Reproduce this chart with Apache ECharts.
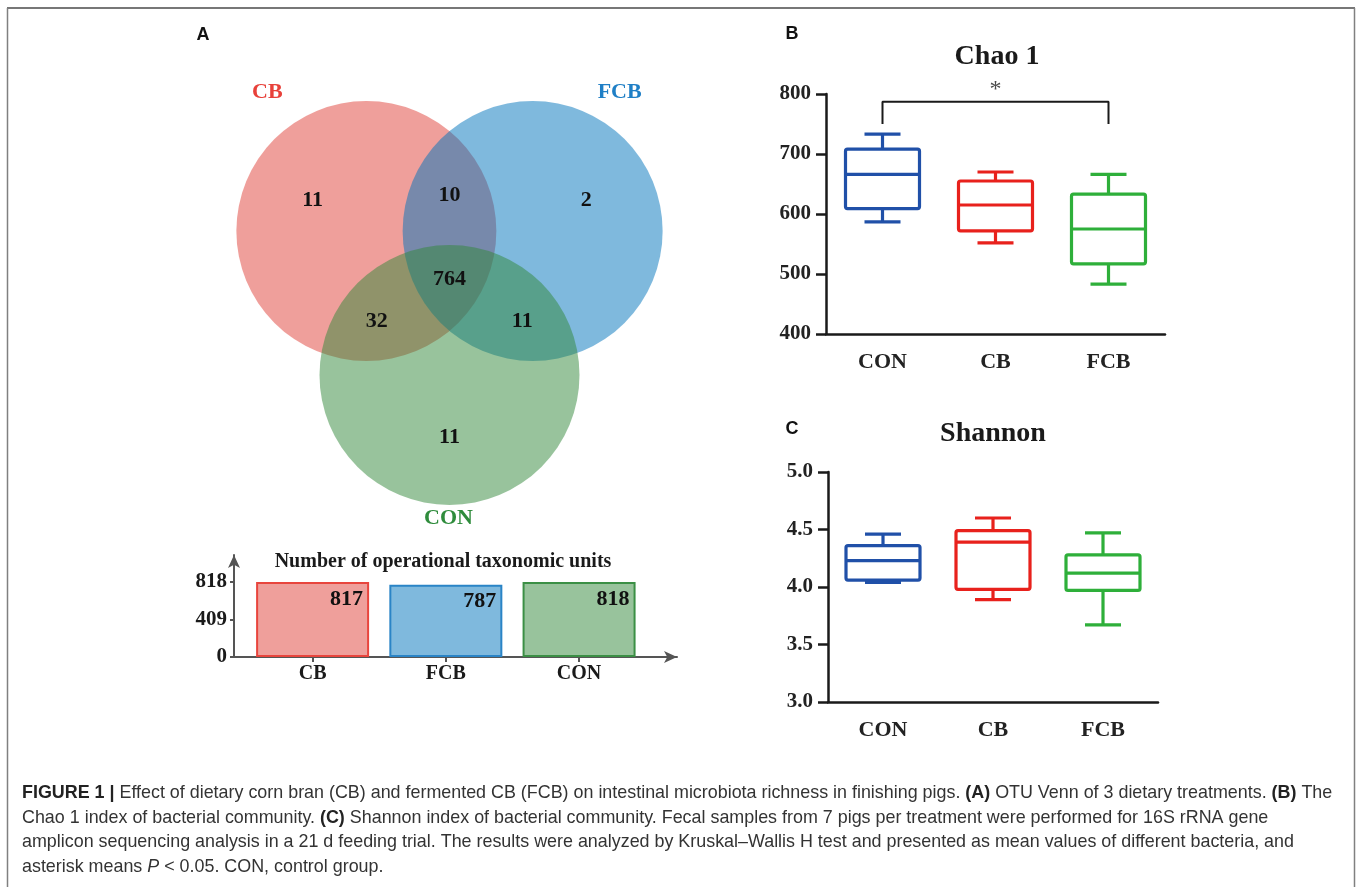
<!DOCTYPE html>
<html lang="en">
<head>
    <meta charset="UTF-8">
    <title>Figure 1 - OTU Venn, Chao 1, Shannon</title>
    <script src="https://cdn.jsdelivr.net/npm/echarts@6.0.0/dist/echarts.min.js"></script>
    <style>
        html, body {margin: 0; padding: 0; background: #fff;}
        #fig {width: 1358px; height: 887px;}
    </style>
</head>
<body>
<div id="fig"></div>
<script>
    // data
    var vennSets = ['CB', 'FCB', 'CON'];
    var vennRegions = [['CB'], ['FCB'], ['CON'], ['CB', 'FCB'], ['CB', 'CON'], ['FCB', 'CON'], ['CB', 'FCB', 'CON']];
    var vennCounts = [11, 2, 11, 10, 32, 11, 764];

    var otuGroups = ['CB', 'FCB', 'CON'];
    var otuTotals = [817, 787, 818];
    var otuTicks = [0, 409, 818];

    var boxGroups = ['CON', 'CB', 'FCB'];
    // [min, Q1, median, Q3, max]
    var chao1Stats = [
        [587, 609, 666, 708, 733],
        [552, 572, 615, 655, 670],
        [483, 517, 575, 633, 666]
    ];
    var shannonStats = [
        [4.04, 4.06, 4.23, 4.36, 4.46],
        [3.89, 3.98, 4.39, 4.49, 4.60],
        [3.67, 3.97, 4.12, 4.28, 4.47]
    ];
    var chao1Sig = [0, 2]; // CON vs FCB, P < 0.05

    // colours
    var setBase = {CB: 'rgb(223,63,55)', FCB: 'rgb(0,115,187)', CON: 'rgb(49,135,57)'};
    var setText = {CB: '#e8413a', FCB: '#1f7fc6', CON: '#2f8c3c'};
    var barFill = {CB: '#ef9f9b', FCB: '#7fb9dd', CON: '#98c39c'};
    var barEdge = {CB: '#e8453d', FCB: '#2a84c6', CON: '#3b8f45'};
    var boxColor = {CON: '#2050a8', CB: '#e8211c', FCB: '#2eaf3a'};

    var serif = '"Liberation Serif", "Times New Roman", serif';
    var sans = '"Liberation Sans", Arial, sans-serif';

    // venn layout (pixel-like units on a hidden grid)
    var venn = {cx: 449.5, cy: 279, spread: 96, r: 130, single: 158, pair: 84};
    var setAngle = {CB: 210, FCB: 330, CON: 90};
    var setLabelOffset = {CB: [-99, -139], FCB: [87, -139], CON: [-1, 143]};

    function dirOf(name) {
        var a = setAngle[name] * Math.PI / 180;
        return [Math.cos(a), Math.sin(a)];
    }

    function centerOf(name) {
        var d = dirOf(name);
        return [venn.cx + venn.spread * d[0], venn.cy + venn.spread * d[1]];
    }

    function regionPos(members) {
        if (members.length === 1) {
            var d = dirOf(members[0]);
            return [venn.cx + venn.single * d[0], venn.cy + venn.single * d[1]];
        }
        if (members.length === 2) {
            var missing = vennSets.filter(function (s) { return members.indexOf(s) < 0; })[0];
            var m = dirOf(missing);
            return [venn.cx - venn.pair * m[0], venn.cy - venn.pair * m[1]];
        }
        return [venn.cx, venn.cy];
    }

    function boxRenderer(colors) {
        return function (params, api) {
            var idx = api.value(0);
            var x = api.coord([idx, api.value(1)])[0];
            var yMin = api.coord([idx, api.value(1)])[1];
            var yQ1 = api.coord([idx, api.value(2)])[1];
            var yMed = api.coord([idx, api.value(3)])[1];
            var yQ3 = api.coord([idx, api.value(4)])[1];
            var yMax = api.coord([idx, api.value(5)])[1];
            var hw = 37, cw = 18;
            var st = {stroke: colors[boxGroups[idx]], lineWidth: 3.2, fill: null, lineJoin: 'round'};
            return {
                type: 'group',
                children: [
                    {type: 'rect', shape: {x: x - hw, y: yQ3, width: hw * 2, height: yQ1 - yQ3, r: 2}, style: st},
                    {type: 'line', shape: {x1: x - hw, y1: yMed, x2: x + hw, y2: yMed}, style: st},
                    {type: 'line', shape: {x1: x, y1: yQ3, x2: x, y2: yMax}, style: st},
                    {type: 'line', shape: {x1: x, y1: yQ1, x2: x, y2: yMin}, style: st},
                    {type: 'line', shape: {x1: x - cw, y1: yMax, x2: x + cw, y2: yMax}, style: st},
                    {type: 'line', shape: {x1: x - cw, y1: yMin, x2: x + cw, y2: yMin}, style: st}
                ]
            };
        };
    }

    function boxXAxis(gridIndex) {
        return {
            type: 'category', gridIndex: gridIndex, data: boxGroups,
            axisLine: {lineStyle: {color: '#1a1a1a', width: 2.5}},
            axisTick: {alignWithLabel: true, length: 11, lineStyle: {width: 2.5, color: '#1a1a1a'}},
            axisLabel: {margin: 17, color: '#222', fontFamily: serif, fontWeight: 'bold', fontSize: 22},
            splitLine: {show: false}
        };
    }

    function boxYAxis(gridIndex, min, max, interval, digits) {
        return {
            type: 'value', gridIndex: gridIndex, min: min, max: max, interval: interval,
            axisLine: {show: true, lineStyle: {color: '#1a1a1a', width: 2.5}},
            axisTick: {show: true, length: 10, lineStyle: {width: 2.5, color: '#1a1a1a'}},
            axisLabel: {
                margin: 15, color: '#222', fontFamily: serif, fontWeight: 'bold', fontSize: 21,
                formatter: function (v) { return v.toFixed(digits); }
            },
            splitLine: {show: false}
        };
    }

    var captionLines = [
        '{b|FIGURE 1 |} Effect of dietary corn bran (CB) and fermented CB (FCB) on intestinal microbiota richness in finishing pigs. {b|(A)} OTU Venn of 3 dietary treatments. {b|(B)} The',
        'Chao 1 index of bacterial community. {b|(C)} Shannon index of bacterial community. Fecal samples from 7 pigs per treatment were performed for 16S rRNA gene',
        'amplicon sequencing analysis in a 21 d feeding trial. The results were analyzed by Kruskal\u2013Wallis H test and presented as mean values of different bacteria, and',
        'asterisk means {i|P} < 0.05. CON, control group.'
    ];

    var chart = echarts.init(document.getElementById('fig'));

    var graphics = [
        {type: 'line', shape: {x1: 7, y1: 8, x2: 1355, y2: 8}, style: {stroke: '#4a4a4a', lineWidth: 1.5}},
        {type: 'line', shape: {x1: 7.5, y1: 8, x2: 7.5, y2: 887}, style: {stroke: '#808080', lineWidth: 1.5}},
        {type: 'line', shape: {x1: 1354.5, y1: 8, x2: 1354.5, y2: 887}, style: {stroke: '#808080', lineWidth: 1.5}},
        {type: 'text', style: {x: 203, y: 35, text: 'A', font: 'bold 18px ' + sans, fill: '#111', align: 'center', verticalAlign: 'middle'}},
        {type: 'text', style: {x: 792, y: 34, text: 'B', font: 'bold 18px ' + sans, fill: '#111', align: 'center', verticalAlign: 'middle'}},
        {type: 'text', style: {x: 792, y: 429, text: 'C', font: 'bold 18px ' + sans, fill: '#111', align: 'center', verticalAlign: 'middle'}},
        {type: 'text', style: {x: 443, y: 562, text: 'Number of operational taxonomic units', font: 'bold 20px ' + serif, fill: '#1a1a1a', align: 'center', verticalAlign: 'middle'}},
        {type: 'text', style: {x: 997, y: 57, text: 'Chao 1', font: 'bold 28px ' + serif, fill: '#1a1a1a', align: 'center', verticalAlign: 'middle'}},
        {type: 'text', style: {x: 993, y: 434, text: 'Shannon', font: 'bold 28px ' + serif, fill: '#1a1a1a', align: 'center', verticalAlign: 'middle'}}
    ];
    captionLines.forEach(function (line, i) {
        graphics.push({
            type: 'text',
            style: {
                x: 22, y: 793 + i * 24.7, text: line, verticalAlign: 'middle',
                font: '17.9px ' + sans, fill: '#333',
                rich: {
                    b: {fontWeight: 'bold', fontSize: 17.9, fontFamily: sans, fill: '#222'},
                    i: {fontStyle: 'italic', fontSize: 17.9, fontFamily: sans, fill: '#333'}
                }
            }
        });
    });

    chart.setOption({
        animation: false,
        backgroundColor: '#fff',
        grid: [
            {left: 0, top: 0, width: 1358, height: 887},
            {left: 234, top: 555, width: 443, height: 102},
            {left: 826, top: 94, width: 339, height: 240},
            {left: 828, top: 472, width: 330, height: 230}
        ],
        xAxis: [
            {type: 'value', gridIndex: 0, min: 0, max: 1358, show: false},
            {
                type: 'value', gridIndex: 1, min: -0.59, max: 2.735,
                axisLine: {onZero: false, lineStyle: {color: '#555', width: 2}, symbol: ['none', 'arrow'], symbolSize: [9, 13]},
                axisTick: {show: true, length: 5, customValues: [0, 1, 2], lineStyle: {color: '#555', width: 2}},
                axisLabel: {
                    customValues: [0, 1, 2], margin: 7, color: '#1a1a1a', fontFamily: serif, fontWeight: 'bold', fontSize: 20,
                    formatter: function (v) { return otuGroups[Math.round(v)]; }
                },
                splitLine: {show: false}
            },
            boxXAxis(2),
            boxXAxis(3)
        ],
        yAxis: [
            {type: 'value', gridIndex: 0, min: 0, max: 887, inverse: true, show: false},
            {
                type: 'value', gridIndex: 1, min: 0, max: 1112,
                axisLine: {show: true, onZero: false, lineStyle: {color: '#555', width: 2}, symbol: ['none', 'arrow'], symbolSize: [9, 13]},
                axisTick: {show: true, length: 4, customValues: otuTicks, lineStyle: {color: '#555', width: 2}},
                axisLabel: {customValues: otuTicks, margin: 7, color: '#1a1a1a', fontFamily: serif, fontWeight: 'bold', fontSize: 21},
                splitLine: {show: false}
            },
            boxYAxis(2, 400, 800, 100, 0),
            boxYAxis(3, 3, 5, 0.5, 1)
        ],
        graphic: graphics,
        series: [
            {
                type: 'custom', xAxisIndex: 0, yAxisIndex: 0, silent: true,
                data: vennSets.map(function (s, i) { return [i]; }),
                renderItem: function (params, api) {
                    var name = vennSets[api.value(0)];
                    var c = centerOf(name);
                    var p = api.coord(c);
                    var r = api.size([venn.r, 0])[0];
                    var off = setLabelOffset[name];
                    var lp = api.coord([c[0] + off[0], c[1] + off[1]]);
                    return {
                        type: 'group',
                        children: [
                            {type: 'circle', shape: {cx: p[0], cy: p[1], r: r}, style: {fill: setBase[name], opacity: 0.5}},
                            {type: 'text', style: {x: lp[0], y: lp[1], text: name, fill: setText[name], font: 'bold 22px ' + serif, align: 'center', verticalAlign: 'middle'}, z2: 10}
                        ]
                    };
                }
            },
            {
                type: 'custom', xAxisIndex: 0, yAxisIndex: 0, silent: true, z: 3,
                data: vennCounts.map(function (v, i) { return [i, v]; }),
                renderItem: function (params, api) {
                    var pos = api.coord(regionPos(vennRegions[api.value(0)]));
                    return {
                        type: 'text',
                        style: {x: pos[0], y: pos[1], text: String(api.value(1)), fill: '#111', font: 'bold 22px ' + serif, align: 'center', verticalAlign: 'middle'}
                    };
                }
            },
            {
                type: 'bar', xAxisIndex: 1, yAxisIndex: 1, barWidth: 113, silent: true,
                data: otuTotals.map(function (v, i) {
                    var g = otuGroups[i];
                    return {value: [i, v], itemStyle: {color: barFill[g], borderColor: barEdge[g], borderWidth: 2}};
                }),
                label: {
                    show: true, position: 'insideTopRight', distance: 6, color: '#111',
                    fontFamily: serif, fontWeight: 'bold', fontSize: 22,
                    formatter: function (p) { return p.value[1]; }
                }
            },
            {
                type: 'custom', xAxisIndex: 2, yAxisIndex: 2, silent: true,
                encode: {x: 0, y: [1, 2, 3, 4, 5]},
                data: chao1Stats.map(function (s, i) { return [i].concat(s); }),
                renderItem: boxRenderer(boxColor)
            },
            {
                type: 'line', xAxisIndex: 2, yAxisIndex: 2, silent: true, symbol: 'none',
                lineStyle: {color: '#1a1a1a', width: 2},
                data: [[chao1Sig[0], 750], [chao1Sig[0], 787], [chao1Sig[1], 787], [chao1Sig[1], 750]]
            },
            {
                type: 'scatter', xAxisIndex: 2, yAxisIndex: 2, silent: true, symbolSize: 0,
                data: [[(chao1Sig[0] + chao1Sig[1]) / 2, 787]],
                label: {show: true, position: 'top', distance: 0, formatter: '*', color: '#1a1a1a', fontFamily: serif, fontSize: 24}
            },
            {
                type: 'custom', xAxisIndex: 3, yAxisIndex: 3, silent: true,
                encode: {x: 0, y: [1, 2, 3, 4, 5]},
                data: shannonStats.map(function (s, i) { return [i].concat(s); }),
                renderItem: boxRenderer(boxColor)
            }
        ]
    });
</script>
</body>
</html>
